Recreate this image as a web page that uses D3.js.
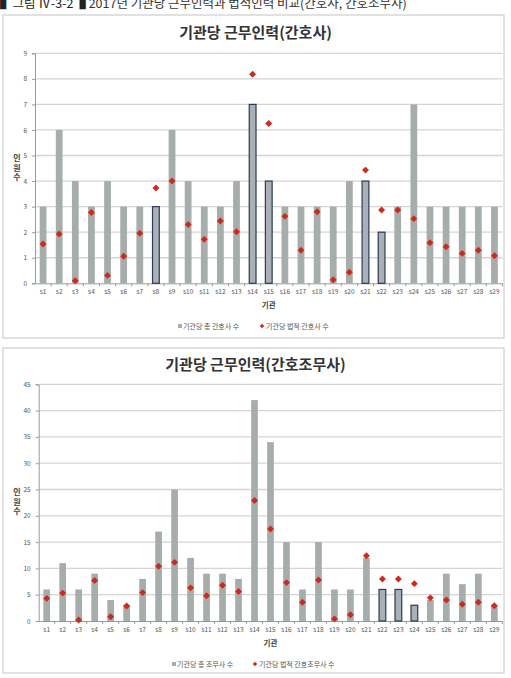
<!DOCTYPE html>
<html>
<head>
<meta charset="utf-8">
<script src="https://cdn.jsdelivr.net/npm/d3@7"></script>
<style>
  body { margin: 0; background: #fff; }
  text { font-family: "Noto Sans CJK KR", "Noto Sans", sans-serif; }
</style>
</head>
<body>
<div id="chart"></div>
<script>
// data
var sites = ["s1","s2","s3","s4","s5","s6","s7","s8","s9","s10","s11","s12","s13","s14","s15",
             "s16","s17","s18","s19","s20","s21","s22","s23","s24","s25","s26","s27","s28","s29"];

// nurses (간호사)
var nurseTotal = [3,6,4,3,4,3,3,3,6,4,3,3,4,7,4,3,3,3,3,4,4,2,3,7,3,3,3,3,3];
var nurseLegal = [1.54,1.93,0.10,2.77,0.31,1.06,1.96,3.73,4.0,2.30,1.72,2.44,2.02,8.18,6.25,
                  2.62,1.29,2.80,0.14,0.43,4.43,2.87,2.87,2.53,1.59,1.43,1.17,1.29,1.08];
var nurseShort = ["s8","s14","s15","s21","s22"];
var nurseTicks = [0,1,2,3,4,5,6,7,8,9];

// nursing assistants (간호조무사)
var aideTotal = [6,11,6,9,4,3,8,17,25,12,9,9,8,42,34,15,6,15,6,6,12,6,6,3,4,9,7,9,3];
var aideLegal = [4.3,5.3,0.2,7.7,0.8,2.85,5.4,10.4,11.15,6.3,4.8,6.8,5.6,22.9,17.5,
                 7.3,3.55,7.8,0.4,1.2,12.4,8.0,8.0,7.1,4.4,4.0,3.2,3.55,2.9];
var aideShort = ["s22","s23","s24"];
var aideTicks = [0,5,10,15,20,25,30,35,40,45];

var W = 511, H = 678;
var svg = d3.select("#chart").append("svg")
  .attr("width", W)
  .attr("height", H);

svg.append("rect").attr("width", W).attr("height", H).attr("fill", "#fff");

// caption (cut off at the top in the scan)
var cap = svg.append("text")
  .attr("x", 0)
  .attr("y", 8)
  .attr("font-size", 12.5)
  .attr("fill", "#333");
cap.append("tspan").attr("fill", "#222").text("▌그림 Ⅳ-3-2▐ ");
cap.append("tspan").text("2017년 기관당 근무인력과 법적인력 비교(간호사, 간호조무사)");

function drawPanel(p) {
  var g = svg.append("g");

  g.append("rect")
    .attr("x", p.box[0]).attr("y", p.box[1])
    .attr("width", p.box[2] - p.box[0]).attr("height", p.box[3] - p.box[1])
    .attr("fill", "#fff")
    .attr("stroke", "#c4c4c4")
    .attr("stroke-width", 1);

  g.append("text")
    .attr("x", (p.box[0] + p.box[2]) / 2 + 2)
    .attr("y", p.titleY)
    .attr("text-anchor", "middle")
    .attr("font-size", 15)
    .attr("font-weight", "bold")
    .attr("fill", "#333")
    .text(p.title);

  var x = d3.scaleBand()
    .domain(sites)
    .range([p.left, p.right])
    .padding(0);

  var y = d3.scaleLinear()
    .domain([0, p.ticks[p.ticks.length - 1]])
    .range([p.bottom, p.top]);

  // gridlines
  g.append("g")
    .selectAll("line")
    .data(p.ticks.slice(1))
    .join("line")
      .attr("x1", p.left).attr("x2", p.right)
      .attr("y1", function(d) { return y(d); })
      .attr("y2", function(d) { return y(d); })
      .attr("stroke", "#d4d4d4")
      .attr("stroke-width", 1.3);

  // y axis
  var yAxis = g.append("g")
    .attr("transform", "translate(" + p.left + ",0)")
    .call(d3.axisLeft(y).tickValues(p.ticks).tickSize(3).tickPadding(5));
  yAxis.select(".domain").attr("stroke", "#9a9a9a");
  yAxis.selectAll(".tick line").attr("stroke", "#9a9a9a");
  yAxis.selectAll("text").attr("font-size", 6.5).attr("fill", "#555");

  // x axis with ticks between categories
  var xAxis = g.append("g")
    .attr("transform", "translate(0," + p.bottom + ")")
    .call(d3.axisBottom(x).tickSize(0).tickPadding(6));
  xAxis.select(".domain").attr("stroke", "#9a9a9a");
  xAxis.selectAll("text").attr("font-size", 6.5).attr("fill", "#555");
  g.append("g")
    .selectAll("line")
    .data(sites)
    .join("line")
      .attr("x1", function(d) { return x(d) + x.bandwidth(); })
      .attr("x2", function(d) { return x(d) + x.bandwidth(); })
      .attr("y1", p.bottom).attr("y2", p.bottom + 3)
      .attr("stroke", "#9a9a9a");

  // bars
  var bw = x.bandwidth() * 0.42;
  g.append("g")
    .selectAll("rect")
    .data(sites)
    .join("rect")
      .attr("x", function(d) { return x(d) + (x.bandwidth() - bw) / 2; })
      .attr("y", function(d, i) { return y(p.total[i]); })
      .attr("width", bw)
      .attr("height", function(d, i) { return y(0) - y(p.total[i]); })
      .attr("fill", function(d) { return p.short.indexOf(d) >= 0 ? "#aab1b6" : "#a6adaa"; })
      .attr("stroke", function(d) { return p.short.indexOf(d) >= 0 ? "#2b3a58" : "none"; })
      .attr("stroke-width", 1.2);

  // legal staffing diamonds (square turned 45 degrees)
  var diamond = d3.symbol().type(d3.symbolSquare).size(24);
  g.append("g")
    .selectAll("path")
    .data(sites)
    .join("path")
      .attr("d", diamond)
      .attr("transform", function(d, i) {
        return "translate(" + (x(d) + x.bandwidth() / 2) + "," + y(p.legal[i]) + ") rotate(45)";
      })
      .attr("fill", "#cc2a1f");

  // y axis title, stacked characters
  g.append("g")
    .selectAll("text")
    .data(["인", "원", "수"])
    .join("text")
      .attr("x", 17)
      .attr("y", function(d, i) { return p.yTitleY + i * 9.5; })
      .attr("text-anchor", "middle")
      .attr("font-size", 8)
      .attr("font-weight", "bold")
      .attr("fill", "#444")
      .text(function(d) { return d; });

  // x axis title
  g.append("text")
    .attr("x", (p.left + p.right) / 2)
    .attr("y", p.xTitleY)
    .attr("text-anchor", "middle")
    .attr("font-size", 7.5)
    .attr("font-weight", "bold")
    .attr("fill", "#444")
    .text("기관");

  // legend
  var lg = g.append("g").attr("font-size", 7).attr("fill", "#555");
  lg.append("rect")
    .attr("x", p.legendX[0]).attr("y", p.legendY - 5)
    .attr("width", 4).attr("height", 4)
    .attr("fill", "#a6adaa");
  lg.append("text")
    .attr("x", p.legendX[0] + 5).attr("y", p.legendY)
    .attr("fill", "#555")
    .text(p.legendNames[0]);
  lg.append("path")
    .attr("d", d3.symbol().type(d3.symbolSquare).size(10))
    .attr("transform", "translate(" + (p.legendX[1] + 2) + "," + (p.legendY - 3) + ") rotate(45)")
    .attr("fill", "#cc2a1f");
  lg.append("text")
    .attr("x", p.legendX[1] + 6).attr("y", p.legendY)
    .attr("fill", "#555")
    .text(p.legendNames[1]);
}

drawPanel({
  box: [3, 15, 504, 338],
  title: "기관당 근무인력(간호사)",
  titleY: 38,
  left: 35, right: 502.5, top: 53.3, bottom: 283.3,
  ticks: nurseTicks,
  total: nurseTotal, legal: nurseLegal, short: nurseShort,
  yTitleY: 161,
  xTitleY: 308,
  legendY: 329,
  legendX: [178, 260],
  legendNames: ["기관당 총 간호사 수", "기관당 법적 간호사 수"]
});

drawPanel({
  box: [3, 348, 504, 673],
  title: "기관당 근무인력(간호조무사)",
  titleY: 370,
  left: 38.7, right: 502.3, top: 384.3, bottom: 621,
  ticks: aideTicks,
  total: aideTotal, legal: aideLegal, short: aideShort,
  yTitleY: 495,
  xTitleY: 646,
  legendY: 667,
  legendX: [172, 253],
  legendNames: ["기관당 총 조무사 수", "기관당 법적 간호조무사 수"]
});
</script>
</body>
</html>
